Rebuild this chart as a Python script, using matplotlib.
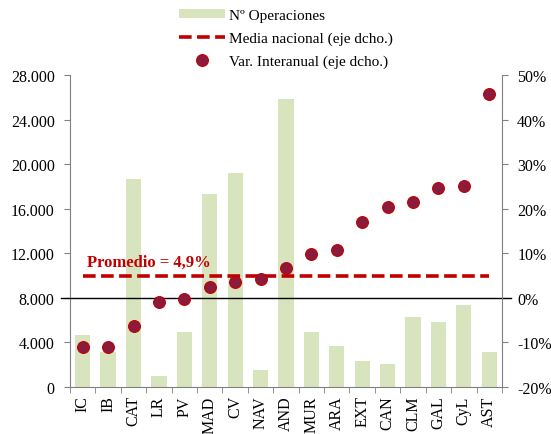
import matplotlib.pyplot as plt
import numpy as np
from matplotlib.ticker import FuncFormatter, FixedLocator

# datos
regiones = ["IC", "IB", "CAT", "LR", "PV", "MAD", "CV", "NAV", "AND",
            "MUR", "ARA", "EXT", "CAN", "CLM", "GAL", "CyL", "AST"]
operaciones = [4700, 3100, 18700, 950, 4900, 17300, 19200, 1500, 25900,
               4900, 3700, 2300, 2100, 6300, 5850, 7400, 3150]
var_interanual = [-11.0, -11.0, -6.4, -0.9, -0.3, 2.5, 3.5, 4.3, 6.7,
                  9.9, 10.8, 17.1, 20.3, 21.6, 24.6, 25.2, 45.8]
media_nacional = 4.9

plt.rcParams['font.family'] = ['Liberation Serif', 'DejaVu Serif']

verde = "#d7e4bd"
rojo = "#c00000"
granate = "#8b1a3c"
gris = "#808080"

fig = plt.figure(figsize=(5.51, 4.35), dpi=100)
ax = fig.add_axes([0.127, 0.108, 0.784, 0.717])
ax2 = ax.twinx()

x = np.arange(len(regiones))
barras = ax.bar(x, operaciones, width=0.6, color=verde, zorder=1,
                label="Nº Operaciones")

ax2.axhline(0, xmin=-0.02, xmax=1.02, color="black", lw=1, zorder=2,
            clip_on=False)
linea, = ax2.plot([x[0], x[-1]], [media_nacional, media_nacional],
                  color=rojo, lw=2.6, dashes=(3.5, 1.5), zorder=3,
                  label="Media nacional (eje dcho.)")
puntos, = ax2.plot(x, var_interanual, "o", ms=8.5, mfc=granate, mec=rojo,
                   mew=0.8, zorder=4, label="Var. Interanual (eje dcho.)")
ax2.text(0.17, 8.0, "Promedio = 4,9%", color=rojo, fontsize=12,
         fontweight="bold", va="center", ha="left", zorder=5)

ax.set_xlim(-0.5, len(regiones) - 0.5)
ax.set_ylim(0, 28000)
ax.set_yticks(np.arange(0, 28001, 4000))
ax.yaxis.set_major_formatter(FuncFormatter(lambda v, p: f"{int(v):,}".replace(",", ".")))
ax2.set_ylim(-20, 50)
ax2.set_yticks(np.arange(-20, 51, 10))
ax2.yaxis.set_major_formatter(FuncFormatter(lambda v, p: f"{int(v)}%"))

ax.set_xticks(x)
ax.set_xticklabels(regiones, rotation=90)
ax.xaxis.set_minor_locator(FixedLocator(np.arange(-0.5, len(regiones), 1)))
ax.tick_params(axis="x", which="major", length=0, pad=6, labelsize=11.5)
ax.tick_params(axis="x", which="minor", length=4, color=gris)
ax.tick_params(axis="y", length=4, color=gris, labelsize=11.5, pad=7)
ax2.tick_params(axis="y", length=4, color=gris, labelsize=11.5, pad=7)

for a in (ax, ax2):
    a.spines["top"].set_visible(False)
    for s in ("left", "right", "bottom"):
        a.spines[s].set_color(gris)
ax.spines["right"].set_visible(False)
ax2.spines["left"].set_visible(False)
ax2.spines["bottom"].set_visible(False)

fig.legend(handles=[barras, linea, puntos], loc="upper center",
           bbox_to_anchor=(0.519, 1.008), frameon=False, fontsize=11,
           handlelength=3.0, handleheight=0.5, labelspacing=0.6,
           handletextpad=0.3)

fig.savefig("out.png", dpi=100)
